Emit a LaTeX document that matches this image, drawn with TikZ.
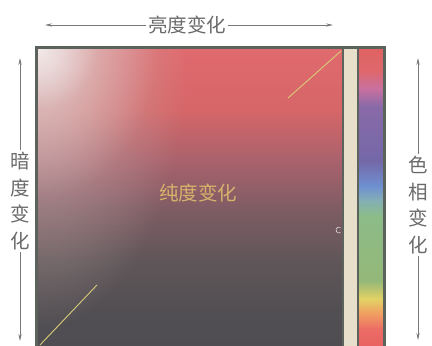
\documentclass[tikz,border=0pt]{standalone}
\usepackage{fontspec}
\usepackage{xcolor}
\usepackage{tikz}
\usetikzlibrary{positioning, fadings, arrows.meta}
\newfontfamily\cjk{Noto Sans CJK SC}

\definecolor{framegray}{HTML}{5C625C}
\definecolor{arrowgray}{HTML}{787878}
\definecolor{labelgray}{HTML}{6A6A6A}
\definecolor{goldtext}{HTML}{D6B26C}
\definecolor{stripbeige}{HTML}{E8DFCB}
\definecolor{lineyellow}{HTML}{D8CC78}
\definecolor{leftwash}{HTML}{C8B2B0}
% square stops
\definecolor{sqA}{HTML}{E06A6E}
\definecolor{sqB}{HTML}{D66668}
\definecolor{sqC}{HTML}{AA626C}
\definecolor{sqD}{HTML}{7E5C64}
\definecolor{sqE}{HTML}{605659}
\definecolor{sqF}{HTML}{524F53}
\definecolor{sqG}{HTML}{4E4D51}
% spectrum stops
\definecolor{spA}{HTML}{E06262}
\definecolor{spB}{HTML}{DE686C}
\definecolor{spC}{HTML}{C870A0}
\definecolor{spD}{HTML}{8A6AA8}
\definecolor{spE}{HTML}{7468A8}
\definecolor{spF}{HTML}{6F90D0}
\definecolor{spG}{HTML}{84B0B4}
\definecolor{spH}{HTML}{8CBC88}
\definecolor{spI}{HTML}{94B878}
\definecolor{spJ}{HTML}{E2D264}
\definecolor{spK}{HTML}{F0A062}
\definecolor{spL}{HTML}{EC6C66}
\definecolor{spM}{HTML}{E86262}

\pgfdeclareverticalshading{squaretone}{100bp}{color(0bp)=(sqG); color(25bp)=(sqG);
  color(31.2bp)=(sqF); color(39.6bp)=(sqE); color(48bp)=(sqD); color(56.4bp)=(sqC);
  color(64.8bp)=(sqB); color(75bp)=(sqA); color(100bp)=(sqA)}

\pgfdeclareverticalshading{spectrum}{100bp}{color(0bp)=(spM); color(25bp)=(spM);
  color(28bp)=(spL); color(30.7bp)=(spK); color(33.1bp)=(spJ); color(36.1bp)=(spI);
  color(47bp)=(spH); color(49.5bp)=(spG); color(52bp)=(spF); color(56.2bp)=(spE);
  color(65.4bp)=(spD); color(68.3bp)=(spC); color(71.3bp)=(spB); color(75bp)=(spA);
  color(100bp)=(spA)}

\tikzfading[name=washfade, inner color=transparent!15, outer color=transparent!100]
\tikzfading[name=softglow, inner color=transparent!55, outer color=transparent!100]
\tikzfading[name=cornerglow, inner color=transparent!45, outer color=transparent!100]

\begin{document}
\begin{tikzpicture}[x=1pt,y=-1pt]
\tikzstyle{scalearrow}=[draw=arrowgray, line width=0.7pt, -{Stealth[length=7pt,width=3.2pt]}]
\tikzstyle{scalelabel}=[font=\cjk\fontsize{19.5}{26.5}\selectfont, text=labelgray, inner sep=2pt, align=center]

\useasboundingbox (0,0) rectangle (432,346);

% colour square
\shade[shading=squaretone] (38,49) rectangle (343,347);
\begin{scope}
\clip (38,49) rectangle (343,347);
\fill[leftwash, path fading=washfade] (38,49) ellipse [x radius=150, y radius=280];
\fill[white, path fading=softglow] (38,49) ellipse [x radius=120, y radius=150];
\fill[white, path fading=cornerglow] (38,49) circle (60);
\end{scope}

% strips
\fill[stripbeige] (343,49) rectangle (357.5,347);
\shade[shading=spectrum] (358,49) rectangle (383,347);
\draw[framegray, line width=1.2pt] (343,49) -- (343,347);
\draw[framegray, line width=1.2pt] (358,49) -- (358,347);
\draw[framegray, line width=3.5pt] (36.5,348) -- (36.5,47.5) -- (384.5,47.5) -- (384.5,348);

% pointer lines and marks
\draw[lineyellow, line width=0.9pt] (288,98) -- (341,51);
\draw[lineyellow, line width=0.9pt] (40,345) -- (97,285);
\draw[white!75!gray, line width=0.6pt] (339,230) ++(60:3) arc (60:300:3);
\draw[white!75!gray, line width=0.6pt] (349,344) ++(180:3) arc (180:360:3);

\node[font=\cjk\fontsize{19.5}{19.5}\selectfont, text=goldtext] (chromalabel) at (198,193) {纯度变化};

% scales
\node[scalelabel] (brightlabel) at (187,25) {亮度变化};
\coordinate (brightL) at (45,25);
\coordinate (brightR) at (333,25);
\draw[scalearrow] (brightlabel) -- (brightL);
\draw[scalearrow] (brightlabel) -- (brightR);

\node[scalelabel] (darklabel) at (20,201) {暗\\度\\变\\化};
\coordinate (darkT) at (20,58);
\coordinate (darkB) at (20,341);
\draw[scalearrow] (darklabel) -- (darkT);
\draw[scalearrow] (darklabel) -- (darkB);

\node[scalelabel] (huelabel) at (418,205) {色\\相\\变\\化};
\coordinate (hueT) at (418,58);
\coordinate (hueB) at (418,340);
\draw[scalearrow] (huelabel) -- (hueT);
\draw[scalearrow] (huelabel) -- (hueB);
\end{tikzpicture}
\end{document}
